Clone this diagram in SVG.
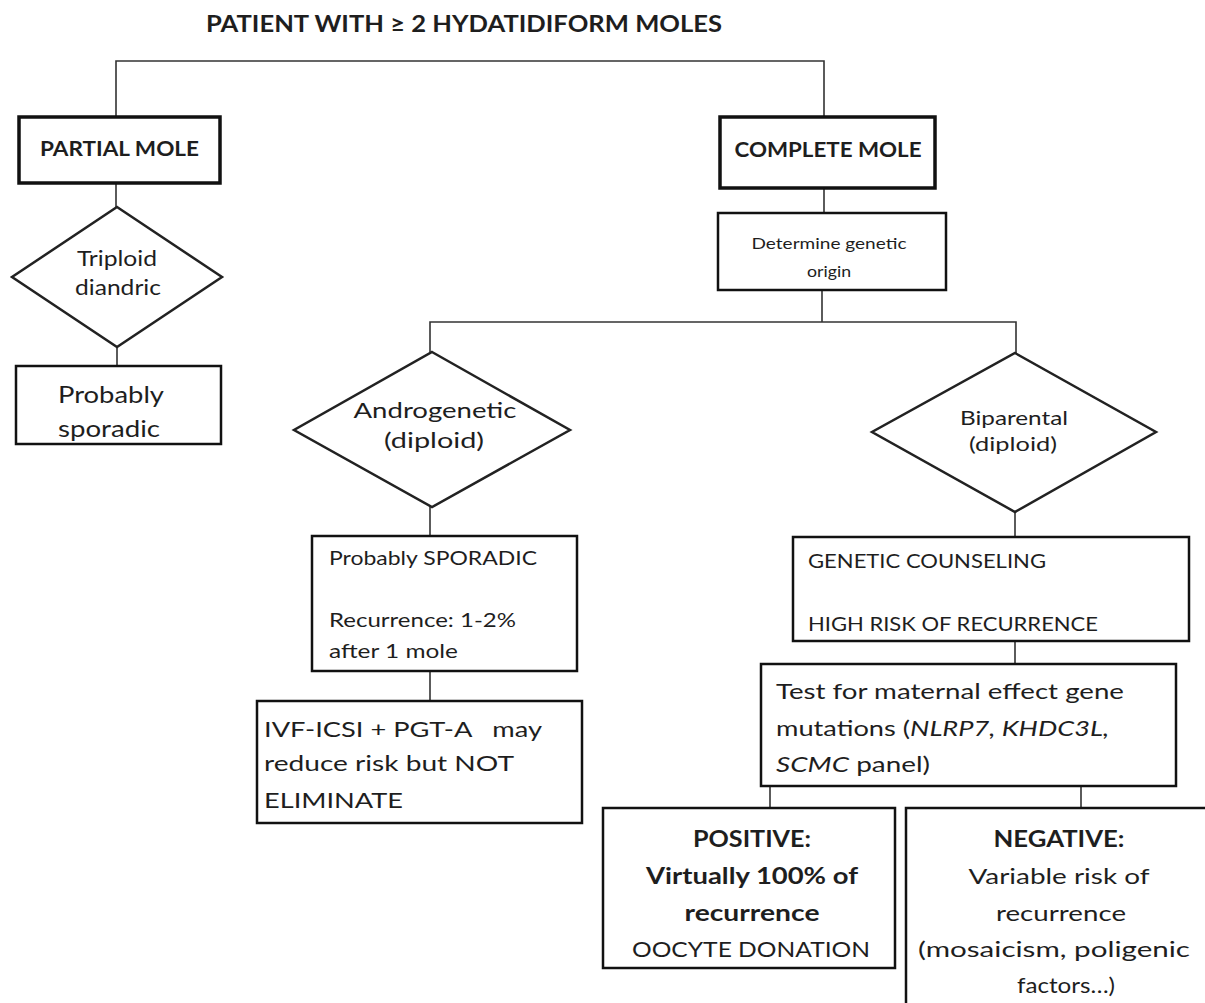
<svg xmlns="http://www.w3.org/2000/svg" width="1205" height="1003" viewBox="0 0 1205 1003">
<style>
text{font-family:Lato,"Open Sans","Liberation Sans",sans-serif;fill:#1e1e1e}
.b{font-weight:bold}
.c{text-anchor:middle}
.thick{fill:#fff;stroke:#111;stroke-width:3.5}
.box{fill:#fff;stroke:#111;stroke-width:2.5}
.dia{fill:#fff;stroke:#222;stroke-width:2.5}
.conn{fill:none;stroke:#333;stroke-width:1.6}
</style>
<rect width="1205" height="1003" fill="#fff"/>
<text id="title" class="b" x="206" y="32" font-size="22" textLength="516" lengthAdjust="spacingAndGlyphs">PATIENT WITH ≥ 2 HYDATIDIFORM MOLES</text>
<g id="connectors">
<polyline class="conn" points="116,117 116,61 824,61 824,117"/>
<line class="conn" x1="116" y1="183" x2="116" y2="207"/>
<line class="conn" x1="117" y1="347" x2="117" y2="366"/>
<line class="conn" x1="824" y1="188" x2="824" y2="213"/>
<line class="conn" x1="822" y1="290" x2="822" y2="322"/>
<polyline class="conn" points="430,352 430,322 1016,322 1016,353"/>
<line class="conn" x1="430" y1="507" x2="430" y2="536"/>
<line class="conn" x1="430" y1="671" x2="430" y2="701"/>
<line class="conn" x1="1015" y1="512" x2="1015" y2="537"/>
<line class="conn" x1="1015" y1="641" x2="1015" y2="664"/>
<line class="conn" x1="770" y1="786" x2="770" y2="808"/>
<line class="conn" x1="1081" y1="786" x2="1081" y2="808"/>
</g>
<g id="partial">
<rect class="thick" x="19" y="117" width="201" height="66"/>
<text class="b c" x="119.5" y="156" font-size="20" textLength="159" lengthAdjust="spacingAndGlyphs">PARTIAL MOLE</text>
</g>
<g id="triploid">
<polygon class="dia" points="117,207 222,277 117,347 12,277"/>
<text class="c" x="117" y="266" font-size="21" textLength="80" lengthAdjust="spacingAndGlyphs">Triploid</text>
<text class="c" x="118" y="295" font-size="21" textLength="86" lengthAdjust="spacingAndGlyphs">diandric</text>
</g>
<g id="sporadic1">
<rect class="box" x="16" y="366" width="205" height="78"/>
<text x="58" y="403" font-size="23" textLength="106" lengthAdjust="spacingAndGlyphs">Probably</text>
<text x="58" y="437" font-size="23" textLength="102" lengthAdjust="spacingAndGlyphs">sporadic</text>
</g>
<g id="complete">
<rect class="thick" x="720" y="117" width="215" height="71"/>
<text class="b c" x="828" y="157" font-size="20" textLength="187" lengthAdjust="spacingAndGlyphs">COMPLETE MOLE</text>
</g>
<g id="determine">
<rect class="box" x="718" y="213" width="228" height="77"/>
<text class="c" x="829" y="249" font-size="15" textLength="155" lengthAdjust="spacingAndGlyphs">Determine genetic</text>
<text class="c" x="829" y="277" font-size="15" textLength="44" lengthAdjust="spacingAndGlyphs">origin</text>
</g>
<g id="androgenetic">
<polygon class="dia" points="432,352 570,430 432,507 294,430"/>
<text class="c" x="435" y="418" font-size="22" textLength="163" lengthAdjust="spacingAndGlyphs">Androgenetic</text>
<text class="c" x="434" y="448" font-size="22" textLength="100" lengthAdjust="spacingAndGlyphs">(diploid)</text>
</g>
<g id="sporadic2">
<rect class="box" x="312" y="536" width="265" height="135"/>
<text x="329" y="565" font-size="19" textLength="208" lengthAdjust="spacingAndGlyphs">Probably SPORADIC</text>
<text x="329" y="627" font-size="19" textLength="187" lengthAdjust="spacingAndGlyphs">Recurrence: 1-2%</text>
<text x="329" y="658" font-size="19" textLength="129" lengthAdjust="spacingAndGlyphs">after 1 mole</text>
</g>
<g id="ivf">
<rect class="box" x="257" y="701" width="325" height="122"/>
<text x="264" y="737" font-size="22" textLength="278" lengthAdjust="spacingAndGlyphs" xml:space="preserve">IVF-ICSI + PGT-A   may</text>
<text x="264" y="771" font-size="22" textLength="250" lengthAdjust="spacingAndGlyphs">reduce risk but NOT</text>
<text x="264" y="808" font-size="22" textLength="139" lengthAdjust="spacingAndGlyphs">ELIMINATE</text>
</g>
<g id="biparental">
<polygon class="dia" points="1015,353 1156,432 1015,512 872,432"/>
<text class="c" x="1014" y="425" font-size="20" textLength="108" lengthAdjust="spacingAndGlyphs">Biparental</text>
<text class="c" x="1013" y="451" font-size="20" textLength="88" lengthAdjust="spacingAndGlyphs">(diploid)</text>
</g>
<g id="counseling">
<rect class="box" x="793" y="537" width="396" height="104"/>
<text x="808" y="568" font-size="19" textLength="238" lengthAdjust="spacingAndGlyphs">GENETIC COUNSELING</text>
<text x="808" y="631" font-size="19" textLength="290" lengthAdjust="spacingAndGlyphs">HIGH RISK OF RECURRENCE</text>
</g>
<g id="test">
<rect class="box" x="761" y="664" width="415" height="122"/>
<text x="776" y="699" font-size="22" textLength="348" lengthAdjust="spacingAndGlyphs">Test for maternal effect gene</text>
<text x="776" y="736" font-size="22" textLength="333" lengthAdjust="spacingAndGlyphs">mutations (<tspan font-style="italic">NLRP7, KHDC3L,</tspan></text>
<text x="776" y="772" font-size="22" textLength="154" lengthAdjust="spacingAndGlyphs"><tspan font-style="italic">SCMC</tspan> panel)</text>
</g>
<g id="positive">
<rect class="box" x="603" y="808" width="292" height="160"/>
<text class="b c" x="752" y="847" font-size="22" textLength="118" lengthAdjust="spacingAndGlyphs">POSITIVE:</text>
<text class="b c" x="752" y="884" font-size="22" textLength="212" lengthAdjust="spacingAndGlyphs">Virtually 100% of</text>
<text class="b c" x="752" y="921" font-size="22" textLength="135" lengthAdjust="spacingAndGlyphs">recurrence</text>
<text class="c" x="751" y="957" font-size="22" textLength="238" lengthAdjust="spacingAndGlyphs">OOCYTE DONATION</text>
</g>
<g id="negative">
<rect class="box" x="906" y="808" width="310" height="210"/>
<text class="b c" x="1059" y="847" font-size="22" textLength="131" lengthAdjust="spacingAndGlyphs">NEGATIVE:</text>
<text class="c" x="1059" y="884" font-size="22" textLength="181" lengthAdjust="spacingAndGlyphs">Variable risk of</text>
<text class="c" x="1061" y="921" font-size="22" textLength="130" lengthAdjust="spacingAndGlyphs">recurrence</text>
<text class="c" x="1054" y="957" font-size="22" textLength="272" lengthAdjust="spacingAndGlyphs">(mosaicism, poligenic</text>
<text class="c" x="1066" y="993" font-size="22" textLength="98" lengthAdjust="spacingAndGlyphs">factors…)</text>
</g>
</svg>
